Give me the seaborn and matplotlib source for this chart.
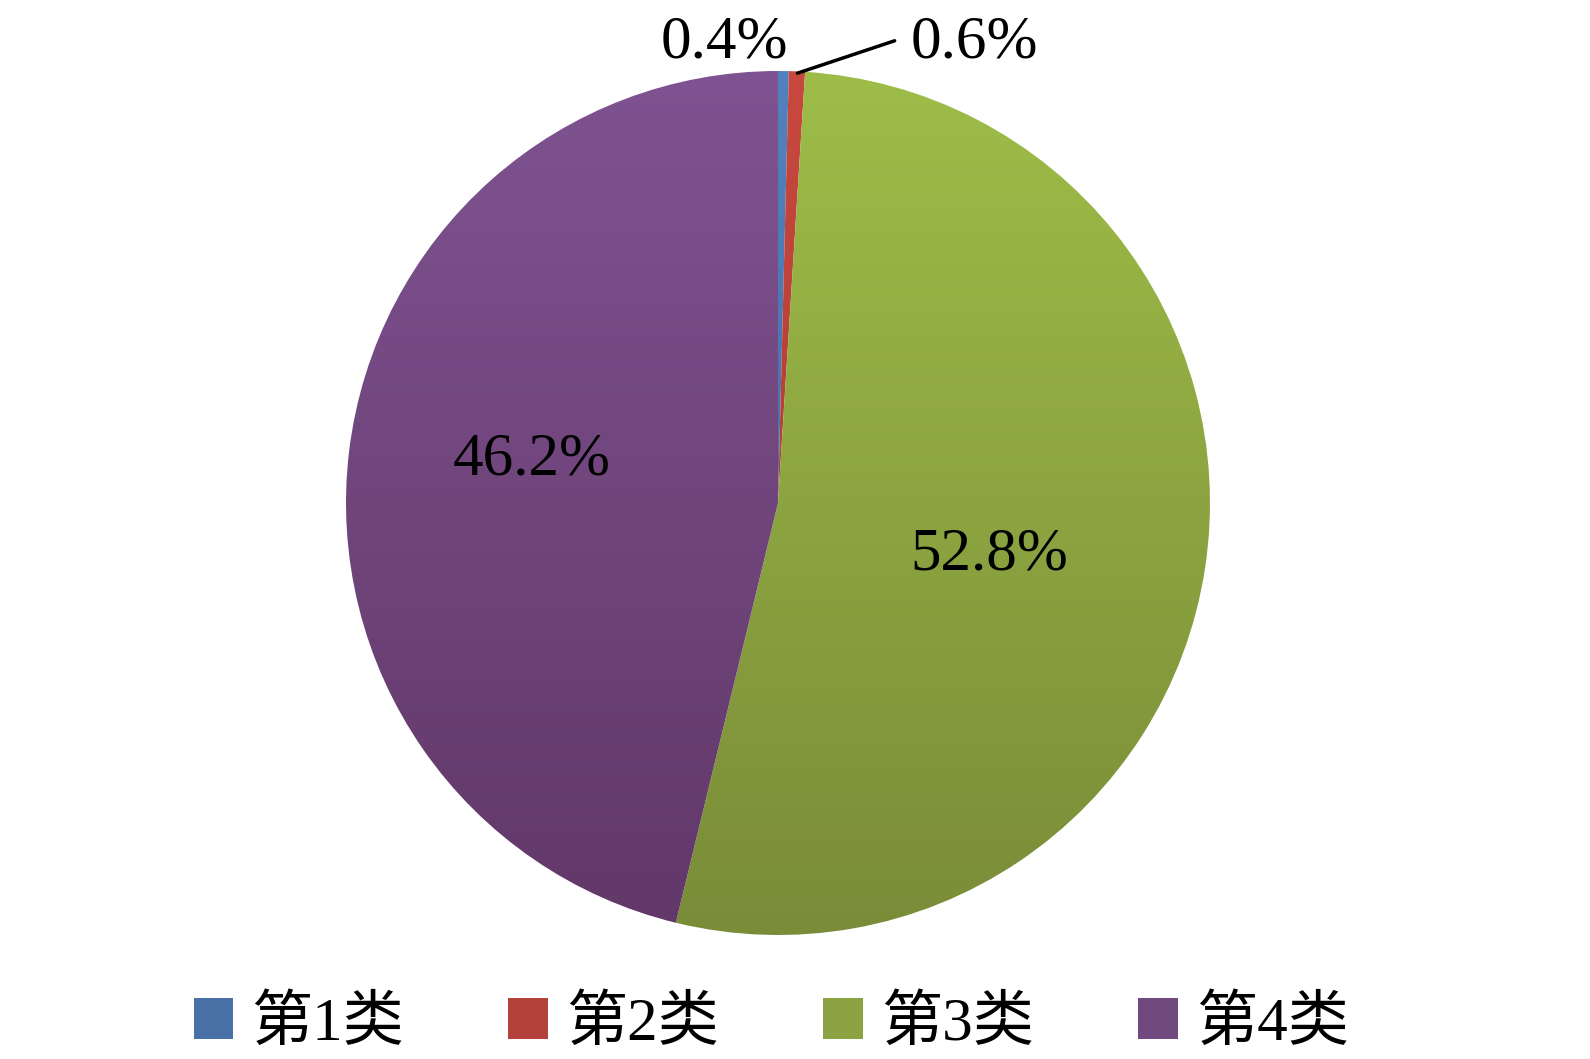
import numpy as np
import matplotlib
matplotlib.use("Agg")
import matplotlib.pyplot as plt
from matplotlib.colors import LinearSegmentedColormap
from matplotlib.patches import Patch
import seaborn as sns

# data
categories = ["第1类", "第2类", "第3类", "第4类"]
shares = [0.4, 0.6, 52.8, 46.2]
labels = ["0.4%", "0.6%", "52.8%", "46.2%"]

# gradient colours (top, bottom) for each slice
top_colors = ["#5282BE", "#C8483F", "#9EBD48", "#7F5391"]
bottom_colors = ["#3F6396", "#A0362E", "#7A8C38", "#613868"]
legend_colors = ["#4A70A8", "#B3403A", "#8BA342", "#704A7E"]

sns.set_theme(style="white")
plt.rcParams["font.family"] = ["Liberation Serif", "Noto Sans CJK SC"]
plt.rcParams["text.color"] = "black"

fig = plt.figure(figsize=(15.9, 10.59), dpi=100)
ax = fig.add_axes([346 / 1590, 1 - 935 / 1059, 864 / 1590, 864 / 1059])

wedges, _ = ax.pie(shares, startangle=90, counterclock=False, radius=1,
                   colors=bottom_colors, wedgeprops=dict(linewidth=0))

# vertical gradient fill clipped to each wedge
grad = np.linspace(0, 1, 256).reshape(-1, 1)
for w, c_top, c_bot in zip(wedges, top_colors, bottom_colors):
    cmap = LinearSegmentedColormap.from_list("g", [c_top, c_bot])
    w.set_facecolor("none")
    im = ax.imshow(grad, cmap=cmap, extent=(-1, 1, -1, 1), origin="upper",
                   aspect="auto", zorder=1)
    im.set_clip_path(w)

ax.set_xlim(-1, 1)
ax.set_ylim(-1, 1)
ax.set_aspect("equal")
ax.axis("off")

fs = 44
# inside labels
ax.text(0.49, -0.12, labels[2], fontsize=fs, ha="center", va="center")
ax.text(-0.57, 0.10, labels[3], fontsize=fs, ha="center", va="center")
# labels above the pie
ax.text(-0.125, 1.065, labels[0], fontsize=fs, ha="center", va="center", clip_on=False)
ax.text(0.455, 1.065, labels[1], fontsize=fs, ha="center", va="center", clip_on=False)
ax.plot([0.045, 0.27], [0.995, 1.07], color="black", lw=2.5, clip_on=False, zorder=5)

handles = [Patch(facecolor=c, edgecolor="none") for c in legend_colors]
fig.legend(handles, categories, loc="center", bbox_to_anchor=(0.485, 1 - 1025 / 1059),
           ncol=4, frameon=False, fontsize=44, handlelength=0.65, handleheight=0.65,
           handletextpad=0.3, columnspacing=1.7)

fig.savefig("out.png", dpi=100)
